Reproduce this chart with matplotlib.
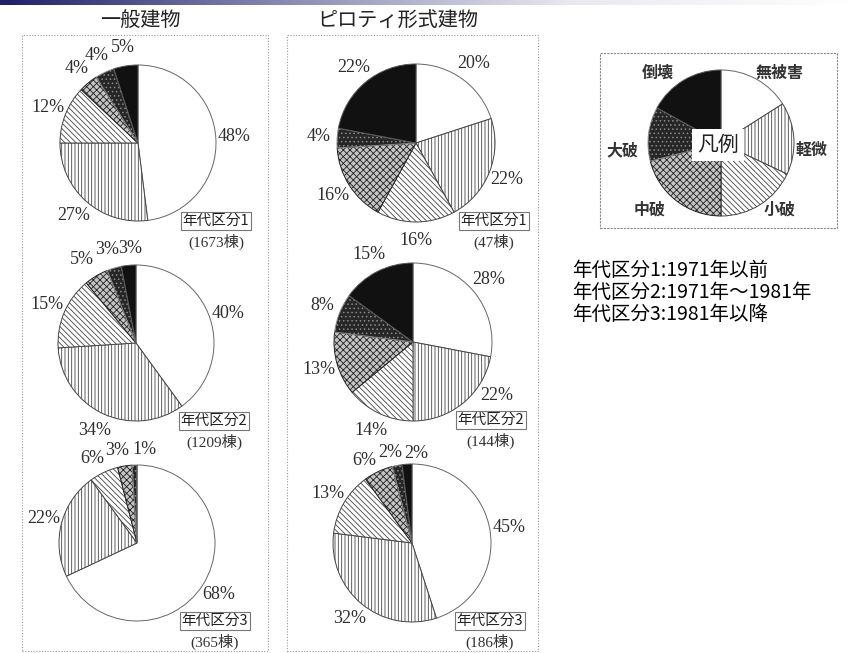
import numpy as np
import matplotlib.pyplot as plt
from matplotlib.patches import Rectangle
from matplotlib.colors import LinearSegmentedColormap

plt.rcParams['font.family'] = ['Noto Sans CJK JP', 'DejaVu Sans']
plt.rcParams['hatch.linewidth'] = 0.6

# ---- data ----
categories = ['無被害', '軽微', '小破', '中破', '大破', '倒壊']
general_1 = [48, 27, 12, 4, 4, 5]
general_2 = [40, 34, 15, 5, 3, 3]
general_3 = [68, 22, 6, 3, 1, 0]
piloti_1 = [20, 22, 16, 16, 4, 22]
piloti_2 = [28, 22, 14, 13, 8, 15]
piloti_3 = [45, 32, 13, 6, 2, 2]
general_counts = [1673, 1209, 365]
piloti_counts = [47, 144, 186]
period_names = ['年代区分1', '年代区分2', '年代区分3']
period_notes = ['年代区分1:1971年以前', '年代区分2:1971年～1981年', '年代区分3:1981年以降']
legend_shares = [16, 16, 18, 21, 12, 17]

# ---- styles ----
faces = ['white', 'white', 'white', '#c4c4c4', '#262626', '#111111']
hatches = [None, '|||||', '\\\\\\\\\\\\', 'xxxxx', '....', None]
edges = ['#666666', '#444444', '#444444', '#222222', '#8a8a8a', '#555555']
serif_cjk = ['Liberation Serif', 'Noto Sans CJK JP']

W, H = 854, 653
fig = plt.figure(figsize=(W / 100, H / 100), dpi=100)
ax = fig.add_axes([0, 0, 1, 1])


def draw_pie(vals, cx, cy, r, labels=True, nudge=None):
    wedges, _ = ax.pie(vals, center=(cx, H - cy), radius=r, startangle=90,
                       counterclock=False, frame=True,
                       wedgeprops=dict(linewidth=0.7))
    for w, fc, hc, ec in zip(wedges, faces, hatches, edges):
        w.set_facecolor(fc)
        w.set_hatch(hc)
        w.set_edgecolor(ec)
    if not labels:
        return
    nudge = nudge or {}
    cum = np.cumsum([0] + list(vals[:-1]))
    for i, (v, c) in enumerate(zip(vals, cum)):
        if v == 0:
            continue
        ang = np.deg2rad(90 - 360 * (c + v / 2) / 100)
        d = 1.24 if v > 3 else 1.2
        x = cx + d * r * np.cos(ang)
        y = (H - cy) + d * r * np.sin(ang)
        dx, dy = nudge.get(i, (0, 0))
        ax.text(x + dx, y + dy, f'{v}%', ha='center', va='center',
                family='Liberation Serif', fontsize=13, color='#2e2e2e')


def period_box(cx, cy, name, count):
    ax.text(cx + 78, H - cy - 78, name, ha='center', va='center', fontsize=10.5,
            color='#222222',
            bbox=dict(boxstyle='square,pad=0.12', fc='white', ec='#777777', lw=0.8))
    ax.text(cx + 78, H - cy - 99, f'({count}棟)', ha='center', va='center',
            family=serif_cjk, fontsize=11, color='#333333')


# gradient bar at the top
cmap = LinearSegmentedColormap.from_list('bar', ['#20206a', '#8a8ab4', '#e8e8f0', '#ffffff'])
grad = np.linspace(0, 1, 400).reshape(1, -1)
ax.imshow(grad, cmap=cmap, extent=(0, W, H - 5, H), aspect='auto', zorder=0)

# column titles
ax.text(140, H - 20, '一般建物', ha='center', va='center', fontsize=14.5, color='#222222')
ax.text(398, H - 20, 'ピロティ形式建物', ha='center', va='center', fontsize=14.5, color='#222222')

# dotted frames
for x0, x1 in [(22, 268), (287, 538)]:
    ax.add_patch(Rectangle((x0, 2), x1 - x0, H - 35 - 2, fill=False,
                           ls=(0, (1, 1.5)), lw=0.8, ec='#999999'))

general = [general_1, general_2, general_3]
piloti = [piloti_1, piloti_2, piloti_3]
g_centers = [(138, 143), (136, 343), (137, 543)]
p_centers = [(416, 143), (413, 342), (412, 543)]
g_nudges = [{}, {3: (-5, 0), 4: (-3, 4), 5: (3, 1)}, {2: (-4, -3), 3: (-5, 0), 4: (10, 0)}]
p_nudges = [{}, {1: (21, 22)}, {3: (-6, -6), 4: (-4, -3), 5: (10, -5)}]

for vals, (cx, cy), cnt, name, nd in zip(general, g_centers, general_counts, period_names, g_nudges):
    draw_pie(vals, cx, cy, 78, nudge=nd)
    period_box(cx, cy, name, cnt)
for vals, (cx, cy), cnt, name, nd in zip(piloti, p_centers, piloti_counts, period_names, p_nudges):
    draw_pie(vals, cx, cy, 79, nudge=nd)
    period_box(cx, cy, name, cnt)

# legend panel
ax.add_patch(Rectangle((600, H - 228), 237, 175, fill=False, lw=0.8,
                       ls=(0, (2, 1)), ec='#888888'))
draw_pie(legend_shares, 721, 143, 73, labels=False)
ax.text(718, H - 145, '凡例', ha='center', va='center', fontsize=15, color='#222222',
        bbox=dict(boxstyle='square,pad=0.25', fc='white', ec='none'))
legend_pos = [(780, 73), (812, 150), (780, 210), (650, 210), (622, 150), (658, 73)]
for lab, (lx, ly) in zip(categories, legend_pos):
    ax.text(lx, H - ly, lab, ha='center', va='center', fontsize=11.5,
            fontweight='bold', color='#333333')

# period notes
for i, note in enumerate(period_notes):
    ax.text(572, H - 270 - 22 * i, note, ha='left', va='center', fontsize=14,
            color='black')

ax.set_xlim(0, W)
ax.set_ylim(0, H)
ax.set_aspect('auto')
ax.axis('off')
fig.savefig('out.png', dpi=100)
